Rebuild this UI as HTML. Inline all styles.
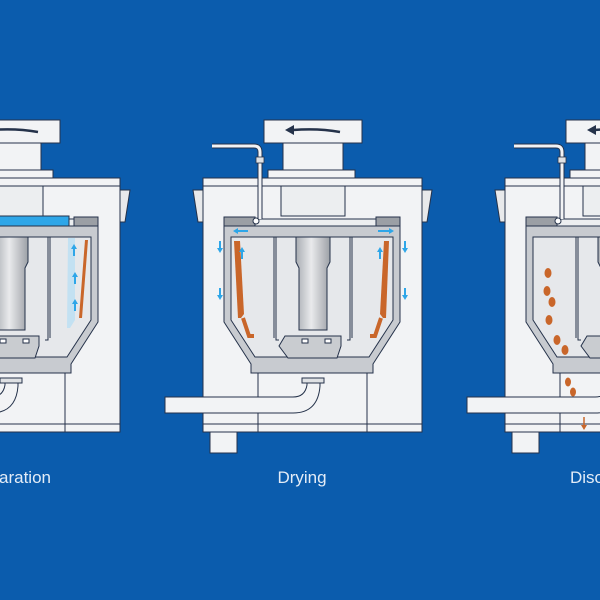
<!DOCTYPE html>
<html><head><meta charset="utf-8"><style>
html,body{margin:0;padding:0;background:#0b5cad;}
svg{display:block}
text{font-family:"Liberation Sans",sans-serif;font-size:17px;fill:#e3ecf7;}
</style></head><body>
<svg width="600" height="600" viewBox="0 0 600 600" xmlns="http://www.w3.org/2000/svg">
<rect width="600" height="600" fill="#0b5cad"/>
<defs>
<linearGradient id="sh" x1="0" x2="1">
<stop offset="0" stop-color="#a9adb3"/><stop offset="0.45" stop-color="#e9eaec"/><stop offset="1" stop-color="#9da1a7"/>
</linearGradient>
<g id="m" stroke="#25324a" stroke-width="1">
<rect x="210" y="430" width="27" height="23" fill="#f2f3f5"/>
<rect x="203" y="178" width="219" height="254" fill="#f2f3f5"/>
<line x1="203" y1="186" x2="422" y2="186"/>
<line x1="203" y1="424" x2="422" y2="424"/>
<line x1="258" y1="373" x2="258" y2="432"/>
<line x1="367" y1="373" x2="367" y2="432"/>
<path d="M193 190 H203 V222 H198 Z" fill="#e8e9eb"/>
<path d="M432 190 H422 V222 H427 Z" fill="#e8e9eb"/>
<rect x="264" y="120" width="98" height="23" fill="#f2f3f5"/>
<path d="M293 130 Q318 128 340 132" fill="none" stroke="#25324a" stroke-width="2.5"/>
<path d="M285 130 L294 125 L294 135 Z" fill="#25324a" stroke="none"/>
<rect x="283" y="143" width="60" height="27" fill="#f2f3f5"/>
<rect x="268" y="170" width="87" height="8" fill="#f2f3f5"/>
<rect x="281" y="186" width="64" height="30" fill="#eceef0"/>
<path d="M224 226 H400 V322 L373 364 V373 H251 V364 L224 322 Z" fill="#c8cbd0"/>
<path d="M231 237 H393 V320 L369 357 H255 L231 320 Z" fill="#e6e8eb"/>
<rect x="224" y="217" width="31" height="9" fill="#9b9fa5"/>
<rect x="376" y="217" width="24" height="9" fill="#9b9fa5"/>
<rect x="255" y="219" width="121" height="7" fill="#eceef0"/>
<path d="M276 237 V340 H279" fill="none"/>
<path d="M274 237 V338" fill="none"/>
<path d="M350 237 V340 H347" fill="none"/>
<path d="M352 237 V338" fill="none"/>
<path d="M296 237 H330 V262 L327 268 V330 H299 V268 L296 262 Z" fill="url(#sh)"/>
<path d="M285 336 H341 V346 L337 358 H288 L279 346 Z" fill="#c9ccd0"/>
<rect x="302" y="339" width="6" height="4" fill="#fff"/>
<rect x="325" y="339" width="6" height="4" fill="#fff"/>
<path d="M165 397 H293 Q305 397 307 385 V378 H320 V386 Q318 413 293 413 H165 Z" fill="#f2f3f5"/>
<rect x="302" y="378" width="22" height="5" fill="#dfe1e4"/>
</g>
<g id="arrowUp"><path d="M0 -6 L-3 -1 H-1 V6 H1 V-1 H3 Z" fill="#2ea6e8"/></g>
<g id="arrowDn"><path d="M0 6 L-3 1 H-1 V-6 H1 V1 H3 Z" fill="#2ea6e8"/></g>
</defs>

<use href="#m"/>
<path d="M212 146 H254 Q260 146 260 152 V219" fill="none" stroke="#25324a" stroke-width="5"/>
<path d="M212 146 H254 Q260 146 260 152 V219" fill="none" stroke="#f2f3f5" stroke-width="3"/>
<rect x="256" y="157" width="8" height="6" fill="#dfe1e4" stroke="#25324a" stroke-width="0.8"/>
<circle cx="256" cy="221" r="3" fill="#fff" stroke="#25324a"/>
<path d="M234 241 L240 241 L244 314 L241 318 L238 318 Z" fill="#c9662a"/>
<path d="M389 241 L384 241 L380 314 L383 318 L386 318 Z" fill="#c9662a"/>
<path d="M243 318 L249 336 L254 336" fill="none" stroke="#c9662a" stroke-width="4"/>
<path d="M381 318 L375 336 L370 336" fill="none" stroke="#c9662a" stroke-width="4"/>
<path d="M236 231 H248" stroke="#2ea6e8" stroke-width="2"/><path d="M233 231 L238 228 V234 Z" fill="#2ea6e8"/>
<path d="M378 231 H390" stroke="#2ea6e8" stroke-width="2"/><path d="M394 231 L389 228 V234 Z" fill="#2ea6e8"/>
<use href="#arrowDn" x="220" y="247"/><use href="#arrowDn" x="220" y="294"/>
<use href="#arrowDn" x="405" y="247"/><use href="#arrowDn" x="405" y="294"/>
<use href="#arrowUp" x="242" y="253"/><use href="#arrowUp" x="380" y="253"/>
<text x="302" y="483" text-anchor="middle">Drying</text>

<g transform="translate(-302 0)">
<use href="#m"/>
<rect x="231" y="216" width="140" height="10" fill="#2ea6e8" stroke="#25324a"/>
<path d="M370 238 L377 238 V320 L372 328 L369 328 Z" fill="#bfe0f3" opacity="0.9"/>
<path d="M390 240 L387 240 L381 318 L384 318 Z" fill="#c9662a"/>
<use href="#arrowUp" x="376" y="250"/><use href="#arrowUp" x="377" y="278"/><use href="#arrowUp" x="377" y="305"/>
</g>
<text x="51" y="483" text-anchor="end">aration</text>

<g transform="translate(302 0)">
<use href="#m"/>
<path d="M212 146 H254 Q260 146 260 152 V219" fill="none" stroke="#25324a" stroke-width="5"/>
<path d="M212 146 H254 Q260 146 260 152 V219" fill="none" stroke="#f2f3f5" stroke-width="3"/>
<rect x="256" y="157" width="8" height="6" fill="#dfe1e4" stroke="#25324a" stroke-width="0.8"/>
<circle cx="256" cy="221" r="3" fill="#fff" stroke="#25324a"/>
<g fill="#c9662a">
<ellipse cx="246" cy="273" rx="3.5" ry="5"/><ellipse cx="245" cy="291" rx="3.5" ry="5"/>
<ellipse cx="250" cy="302" rx="3.5" ry="5"/><ellipse cx="247" cy="320" rx="3.5" ry="5"/>
<ellipse cx="255" cy="340" rx="3.5" ry="5"/><ellipse cx="263" cy="350" rx="3.5" ry="5"/>
<ellipse cx="266" cy="382" rx="3" ry="4.5"/><ellipse cx="271" cy="392" rx="3" ry="4.5"/>
</g>
<path d="M282 417 V425" stroke="#c9662a" stroke-width="1.5"/><path d="M279 425 L285 425 L282 430 Z" fill="#c9662a"/>
</g>
<text x="570" y="483">Disc</text>
</svg>
</body></html>
